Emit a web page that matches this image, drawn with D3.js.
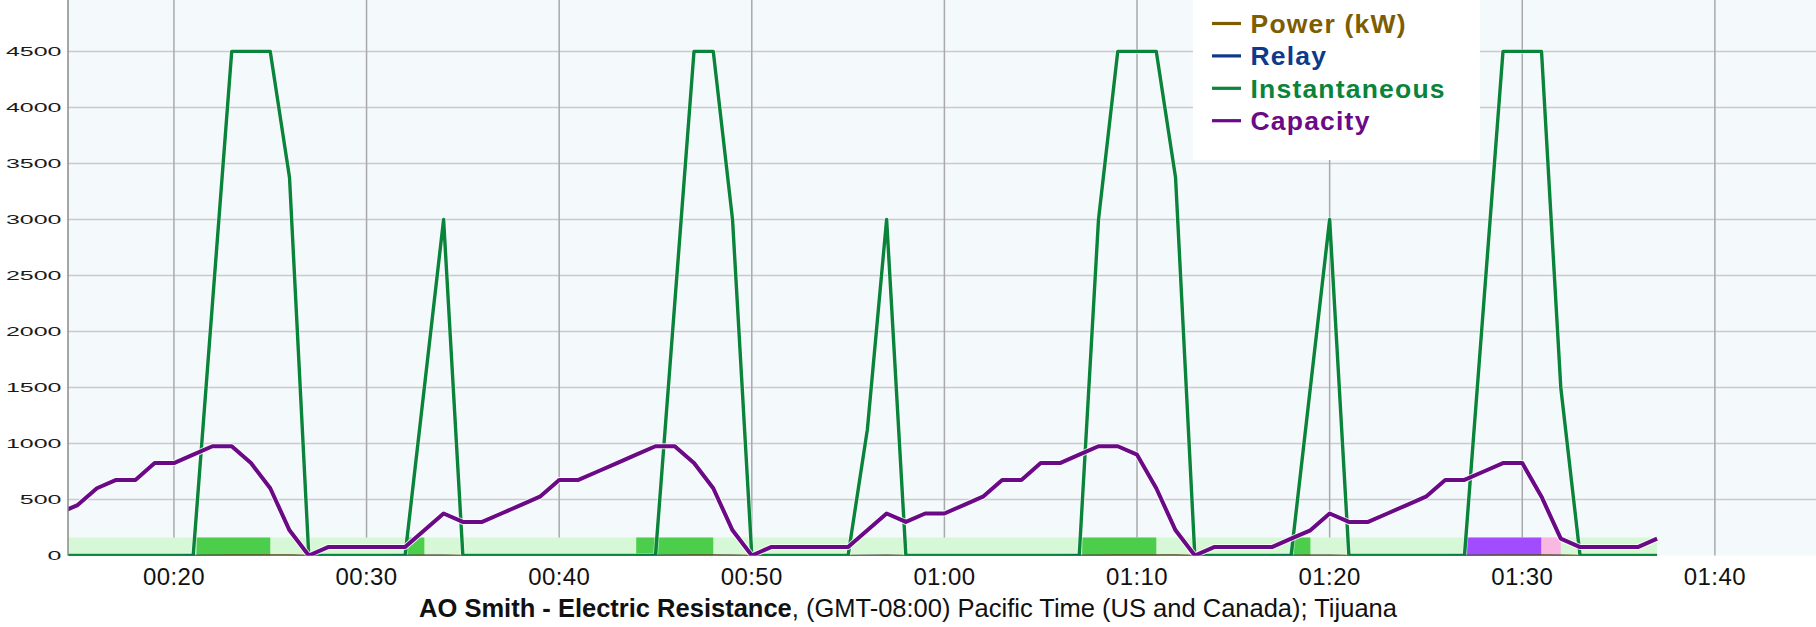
<!DOCTYPE html>
<html>
<head>
<meta charset="utf-8">
<script src="https://cdn.jsdelivr.net/npm/d3@7"></script>
<style>
body { margin: 0; background: #fff; }
svg { display: block; font-family: 'Liberation Sans', Arial, Helvetica, sans-serif; }
</style>
</head>
<body>
<svg width="1816" height="627"></svg>
<script>
'use strict';

// sample times, one per minute, 00:14 .. 01:37
const minutes = d3.range(14, 98)

const capacity = [
  375, 450, 600, 675, 675, 825, 825, 900, 975, 975,
  825, 600, 225, 0, 75, 75, 75, 75, 75, 225,
  375, 300, 300, 375, 450, 525, 675, 675, 750, 825,
  900, 975, 975, 825, 600, 225, 0, 75, 75, 75,
  75, 75, 225, 375, 300, 375, 375, 450, 525, 675,
  675, 825, 825, 900, 975, 975, 900, 600, 225, 0,
  75, 75, 75, 75, 150, 225, 375, 300, 300, 375,
  450, 525, 675, 675, 750, 825, 825, 525, 150, 75,
  75, 75, 75, 150
]

const instantaneous = [
  0, 0, 0, 0, 0, 0, 0, 0, 2250, 4500,
  4500, 4500, 3375, 0, 0, 0, 0, 0, 0, 1500,
  3000, 0, 0, 0, 0, 0, 0, 0, 0, 0,
  0, 0, 2250, 4500, 4500, 3000, 0, 0, 0, 0,
  0, 0, 1125, 3000, 0, 0, 0, 0, 0, 0,
  0, 0, 0, 0, 3000, 4500, 4500, 4500, 3375, 0,
  0, 0, 0, 0, 0, 1500, 3000, 0, 0, 0,
  0, 0, 0, 0, 2250, 4500, 4500, 4500, 1500, 0,
  0, 0, 0, 0
]

const relay = [
  0, 0, 0, 0, 0, 0, 0, 1, 1, 1,
  1, 1, 1, 0, 0, 0, 0, 0, 1, 1,
  1, 0, 0, 0, 0, 0, 0, 0, 0, 0,
  0, 1, 1, 1, 1, 1, 0, 0, 0, 0,
  0, 0, 1, 1, 0, 0, 0, 0, 0, 0,
  0, 0, 0, 1, 1, 1, 1, 1, 1, 0,
  0, 0, 0, 0, 1, 1, 1, 0, 0, 0,
  0, 0, 0, 1, 1, 1, 1, 1, 1, 0,
  0, 0, 0, 0
]

const powerKw = [
  0, 0, 0, 0, 0, 0, 0, 0, 2.3, 4.5,
  4.5, 4.5, 3.4, 0, 0, 0, 0, 0, 0, 1.5,
  3, 0, 0, 0, 0, 0, 0, 0, 0, 0,
  0, 0, 2.3, 4.5, 4.5, 3, 0, 0, 0, 0,
  0, 0, 1.1, 3, 0, 0, 0, 0, 0, 0,
  0, 0, 0, 0, 3, 4.5, 4.5, 4.5, 3.4, 0,
  0, 0, 0, 0, 0, 1.5, 3, 0, 0, 0,
  0, 0, 0, 0, 2.3, 4.5, 4.5, 4.5, 1.5, 0,
  0, 0, 0, 0
]

// state bands along the bottom
const bandStarts = ['00:14:00', '00:21:10', '00:32:00', '00:44:00', '01:07:09', '01:18:07', '01:27:07', '01:31:00']
const bandEnds = ['01:37:00', '00:25:00', '00:33:00', '00:48:00', '01:11:00', '01:19:00', '01:31:00', '01:32:00']
const bandStates = ['idle', 'heat', 'heat', 'heat', 'heat', 'heat', 'boost', 'hold']

const yTicks = [0, 500, 1000, 1500, 2000, 2500, 3000, 3500, 4000, 4500]
const xTicks = ['00:20', '00:30', '00:40', '00:50', '01:00', '01:10', '01:20', '01:30', '01:40']
const xDomain = ['00:14:30', '01:45:15']

const seriesNames = ['Power (kW)', 'Relay', 'Instantaneous', 'Capacity']
const seriesColors = ['#7d5d00', '#0d3a8a', '#0a843a', '#6b0a86']
const bandColors = {idle: '#d6f8d6', heat: '#4ccd4c', boost: '#a24cff', hold: '#f8b8e2'}

const parseClock = d3.timeParse('%H:%M:%S')
const atMinute = (m) => new Date(1900, 0, 1, 0, m)

const svg = d3.select('svg')
const plot = {left: 68, right: 1816, top: 1, bottom: 555.5}

const x = d3.scaleTime()
  .domain(xDomain.map(parseClock))
  .range([plot.left, plot.right])
const y = d3.scaleLinear()
  .domain([0, 4950])
  .range([plot.bottom, plot.top])

svg.append('defs').append('clipPath').attr('id', 'plotClip')
  .append('rect')
  .attr('x', plot.left).attr('y', 0)
  .attr('width', plot.right - plot.left).attr('height', plot.bottom)

svg.append('rect')
  .attr('x', plot.left).attr('y', 0)
  .attr('width', plot.right - plot.left).attr('height', plot.bottom)
  .attr('fill', '#f4f9fc')

// grid
svg.append('g').selectAll('line')
  .data(yTicks.filter((d) => d > 0))
  .enter().append('line')
  .attr('x1', plot.left).attr('x2', plot.right)
  .attr('y1', (d) => y(d)).attr('y2', (d) => y(d))
  .attr('stroke', '#cacaca').attr('stroke-width', 1.5)

svg.append('g').selectAll('line')
  .data(xTicks)
  .enter().append('line')
  .attr('x1', (d) => x(parseClock(d + ':00'))).attr('x2', (d) => x(parseClock(d + ':00')))
  .attr('y1', 0).attr('y2', plot.bottom)
  .attr('stroke', '#a9a9a9').attr('stroke-width', 1.5)

// bands
const bandH = 18
svg.append('g').attr('clip-path', 'url(#plotClip)')
  .selectAll('rect')
  .data(bandStates.map((s, i) => ({state: s, start: parseClock(bandStarts[i]), end: parseClock(bandEnds[i])})))
  .enter().append('rect')
  .attr('x', (d) => x(d.start))
  .attr('width', (d) => x(d.end) - x(d.start))
  .attr('y', plot.bottom - bandH)
  .attr('height', bandH)
  .attr('fill', (d) => bandColors[d.state])

// lines
const lineGen = d3.line()
  .x((d) => x(d.t))
  .y((d) => y(d.v))

const toPoints = (vals) => vals.map((v, i) => ({t: atMinute(minutes[i]), v: v}))

const lines = svg.append('g').attr('clip-path', 'url(#plotClip)')
  .attr('fill', 'none').attr('stroke-linejoin', 'round')

lines.append('path').attr('d', lineGen(toPoints(powerKw)))
  .attr('stroke', seriesColors[0]).attr('stroke-width', 1.5)

lines.append('path').attr('d', lineGen(toPoints(instantaneous)))
  .attr('stroke', '#fff').attr('stroke-opacity', 0.5).attr('stroke-width', 5)
lines.append('path').attr('d', lineGen(toPoints(instantaneous)))
  .attr('stroke', seriesColors[2]).attr('stroke-width', 3.4)

lines.append('path').attr('d', lineGen(toPoints(relay)))
  .attr('stroke', seriesColors[1]).attr('stroke-width', 1.2)

lines.append('path').attr('d', lineGen(toPoints(capacity)))
  .attr('stroke', '#fff').attr('stroke-opacity', 0.8).attr('stroke-width', 6)
lines.append('path').attr('d', lineGen(toPoints(capacity)))
  .attr('stroke', seriesColors[3]).attr('stroke-width', 4)

// left axis
svg.append('line')
  .attr('x1', plot.left).attr('x2', plot.left)
  .attr('y1', 0).attr('y2', plot.bottom)
  .attr('stroke', '#8a8a8a').attr('stroke-width', 1.5)

svg.append('g').selectAll('text')
  .data(yTicks)
  .enter().append('text')
  .attr('transform', (d) => `translate(61.5,${y(d)}) scale(2,1)`)
  .attr('text-anchor', 'end')
  .attr('dy', '0.35em')
  .attr('font-size', 12.5)
  .attr('fill', '#1a1a1a')
  .text((d) => d)

svg.append('g').selectAll('text')
  .data(xTicks)
  .enter().append('text')
  .attr('x', (d) => x(parseClock(d + ':00')))
  .attr('y', 585)
  .attr('text-anchor', 'middle')
  .attr('font-size', 24)
  .attr('letter-spacing', 0.4)
  .attr('fill', '#111')
  .text((d) => d)

// legend
const legend = svg.append('g')
legend.append('rect')
  .attr('x', 1193).attr('y', 0)
  .attr('width', 287).attr('height', 160)
  .attr('fill', '#fff')

const rows = legend.selectAll('g.row')
  .data(seriesNames)
  .enter().append('g').classed('row', true)
  .attr('transform', (d, i) => `translate(1212,${23.5 + i * 32.4})`)
rows.append('line')
  .attr('x1', 0).attr('x2', 29)
  .attr('stroke', (d, i) => seriesColors[i]).attr('stroke-width', 3.2)
rows.append('text')
  .attr('x', 38.5).attr('y', 9.5)
  .attr('font-size', 26.5).attr('font-weight', 'bold')
  .attr('letter-spacing', 1.2)
  .attr('fill', (d, i) => seriesColors[i])
  .text((d) => d)

// title
const title = svg.append('text')
  .attr('x', 908).attr('y', 617)
  .attr('text-anchor', 'middle')
  .attr('font-size', 25.5)
  .attr('fill', '#111')
title.append('tspan').attr('font-weight', 'bold').text('AO Smith - Electric Resistance')
title.append('tspan').text(', (GMT-08:00) Pacific Time (US and Canada); Tijuana')
</script>
</body>
</html>
